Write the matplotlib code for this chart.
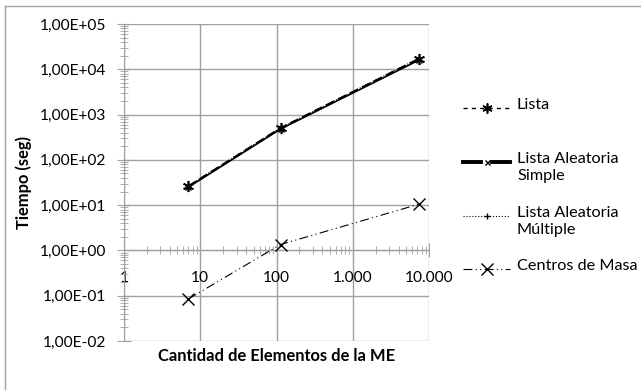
# Log-log chart of timing results (Excel style)
import matplotlib
matplotlib.use("Agg")
import matplotlib.pyplot as plt
from matplotlib.lines import Line2D
from matplotlib.ticker import FuncFormatter, LogLocator, NullFormatter

plt.rcParams['font.family'] = ['Lato', 'DejaVu Sans']

# Data
elementos = [7, 113, 7400]
lista = [26, 500, 17000]
lista_simple = [25, 480, 16000]
lista_multiple = [27, 510, 17500]
centros_masa = [0.085, 1.35, 10.5]

x_ticks = [1, 10, 100, 1000, 10000]
x_labels = ['1', '10', '100', '1.000', '10.000']
y_ticks = [1e-2, 1e-1, 1e0, 1e1, 1e2, 1e3, 1e4, 1e5]

labels = ['Lista', 'Lista Aleatoria\nSimple', 'Lista Aleatoria\nMúltiple', 'Centros de Masa']

W, H = 641, 390
fig = plt.figure(figsize=(W / 100, H / 100), dpi=100)
ax = fig.add_axes([124 / W, 1 - 341 / H, (429 - 124) / W, (341 - 24) / H])

grid_c = '#a0a0a0'
tick_fs = 11.2
text_fs = 11.7
label_fs = 11.9

# Series
styles = [
    dict(ls=(0, (4, 2)), lw=1.6, marker=(6, 2, 0), ms=8, mew=1.2),
    dict(ls='-', lw=1.2, marker='x', ms=4, mew=1.0),
    dict(ls=':', lw=0.8, marker='+', ms=5, mew=1.0),
    dict(ls=(0, (8, 3, 1, 3, 1, 3)), lw=0.8, marker='x', ms=9, mew=1.0),
]
series = [lista, lista_simple, lista_multiple, centros_masa]
for ys, st in zip(series, styles):
    ax.plot(elementos, ys, color='black', zorder=3, **st)

ax.set_xscale('log')
ax.set_yscale('log')
ax.set_xlim(1, 10000)
ax.set_ylim(1e-2, 1e5)

# grid and frame
ax.grid(True, which='major', color=grid_c, lw=1.0)
ax.set_axisbelow(True)
for s in ['top', 'right']:
    ax.spines[s].set_visible(False)
ax.spines['left'].set_color(grid_c)
ax.spines['bottom'].set_color(grid_c)
ax.spines['bottom'].set_position(('data', 1))

# y axis
ax.set_yticks(y_ticks)
ax.yaxis.set_major_formatter(FuncFormatter(lambda v, p: ('%.2E' % v).replace('.', ',')))
ax.yaxis.set_minor_locator(LogLocator(base=10, subs=range(2, 10), numticks=20))
ax.yaxis.set_minor_formatter(NullFormatter())
ax.tick_params(axis='y', which='major', direction='inout', length=10, color=grid_c, labelsize=tick_fs, pad=8)
ax.tick_params(axis='y', which='minor', direction='inout', length=6, color=grid_c)

# x axis
ax.set_xticks(x_ticks)
ax.set_xticklabels(x_labels)
ax.xaxis.set_minor_locator(LogLocator(base=10, subs=range(2, 10), numticks=20))
ax.xaxis.set_minor_formatter(NullFormatter())
ax.tick_params(axis='x', which='major', direction='inout', length=10, color=grid_c, labelsize=tick_fs, pad=10)
ax.tick_params(axis='x', which='minor', direction='inout', length=6, color=grid_c)

ax.set_xlabel('Cantidad de Elementos de la ME', fontsize=label_fs, fontweight='bold')
ax.xaxis.set_label_coords(0.5, (341 - 356) / 317)
ax.xaxis.label.set_va('center')
ax.set_ylabel('Tiempo (seg)', fontsize=label_fs, fontweight='bold')
ax.yaxis.set_label_coords((24 - 124) / 305, 0.5)
ax.yaxis.label.set_va('center')

# legend, drawn Excel-like (handle aligned with first text line)
leg_y = [108, 162, 216, 269]
leg_lw = [1.0, 2.8, 0.8, 0.8]
leg_ls = [(0, (3, 3)), '-', ':', (0, (8, 3, 1, 3, 1, 3))]
for lab, st, lw, ls, yy in zip(labels, styles, leg_lw, leg_ls, leg_y):
    yf = 1 - yy / H
    if lab.endswith('Simple'):
        # thick line with a gap round the small marker
        segs = [(463, 481), (492, 510)]
    else:
        segs = [(463, 510)]
    for a, b in segs:
        fig.add_artist(Line2D([a / W, b / W], [yf, yf], color='black',
                              transform=fig.transFigure, ls=ls, lw=lw))
    mk = Line2D([486.5 / W], [yf], color='black', transform=fig.transFigure, ls='none',
                marker=st['marker'], ms=st['ms'] * 0.9, mew=st['mew'])
    fig.add_artist(mk)
    fig.text(517 / W, yf + 10 / H, lab, fontsize=text_fs, va='top', ha='left',
             linespacing=1.25)

# outer chart frame (only left and top visible)
fig.add_artist(Line2D([5 / W, 5 / W], [0, 1 - 6 / H], color=grid_c, lw=1.0, transform=fig.transFigure))
fig.add_artist(Line2D([5 / W, 1], [1 - 6 / H, 1 - 6 / H], color=grid_c, lw=1.0, transform=fig.transFigure))

fig.savefig('out.png', dpi=100)
